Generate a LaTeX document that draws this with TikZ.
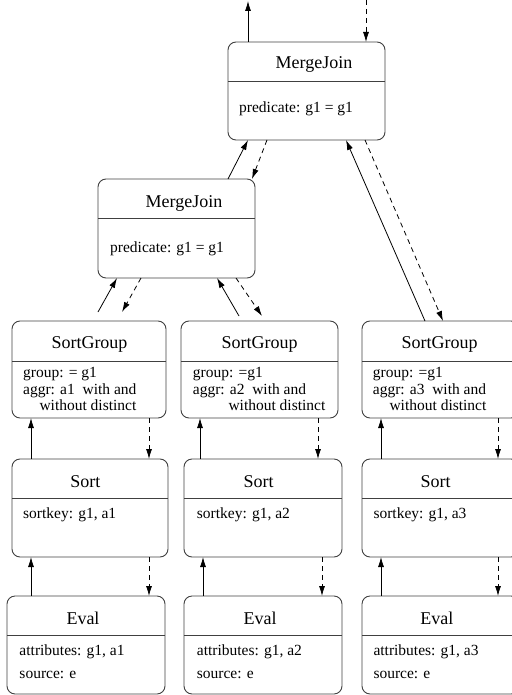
\documentclass[tikz,border=0pt]{standalone}
\usepackage{fontspec}
\setmainfont{Liberation Serif}
\usetikzlibrary{calc,arrows.meta}
\begin{document}
\begin{tikzpicture}[x=1pt,y=-1pt,
  opbox/.style={draw=black!75, line width=0.9pt, rounded corners=8pt, anchor=north west, inner sep=0pt, outer sep=0pt},
  ttl/.style={anchor=base, inner sep=0pt, font=\fontsize{18}{20}\selectfont},
  txt/.style={anchor=base west, inner sep=0pt, font=\fontsize{15.5}{17}\selectfont},
  sepline/.style={draw=black!75, line width=0.9pt},
  flow/.style={-{Latex[length=10pt,width=6pt]}, line width=0.8pt},
  req/.style={flow, dash pattern=on 5pt off 4pt}]
\useasboundingbox (0,0) rectangle (511,695);

% ---- boxes ----
\node[opbox, minimum width=157pt, minimum height=98pt] (mj1) at (228,42) {};
\node[opbox, minimum width=157pt, minimum height=99pt] (mj2) at (98,179) {};
\node[opbox, minimum width=154pt, minimum height=97pt] (sg1) at (12,321) {};
\node[opbox, minimum width=157pt, minimum height=97pt] (sg2) at (181,321) {};
\node[opbox, minimum width=157pt, minimum height=97pt] (sg3) at (362,321) {};
\node[opbox, minimum width=156pt, minimum height=98pt] (s1) at (12,459) {};
\node[opbox, minimum width=158pt, minimum height=98pt] (s2) at (184,459) {};
\node[opbox, minimum width=157pt, minimum height=98pt] (s3) at (362,459) {};
\node[opbox, minimum width=158pt, minimum height=98pt] (e1) at (7,596) {};
\node[opbox, minimum width=158pt, minimum height=98pt] (e2) at (184,596) {};
\node[opbox, minimum width=157pt, minimum height=98pt] (e3) at (362,596) {};

% ---- dividers ----
\foreach \b/\d in {mj1/39, mj2/39, sg1/40, sg2/40, sg3/40, s1/39, s2/39, s3/39, e1/39, e2/39, e3/39}
  \draw[sepline] ($(\b.north west)+(0,\d)$) -- ($(\b.north east)+(0,\d)$);

% ---- texts ----
\node[ttl] (mj1t) at (314,69) {MergeJoin};
\node[txt] (mj1p) at (239,113) {predicate: g1 = g1};
\node[ttl] (mj2t) at (184,207) {MergeJoin};
\node[txt] (mj2p) at (110,252) {predicate: g1 = g1};

\node[ttl] (sg1t) at (89.5,348) {SortGroup};
\node[txt] (sg1g) at (23,377) {group: = g1};
\node[txt] (sg1a) at (23,394) {aggr: a1\ \ with and};
\node[txt] (sg1w) at (39.3,410) {without distinct};

\node[ttl] (sg2t) at (259.5,348) {SortGroup};
\node[txt] (sg2g) at (192.7,377) {group: =g1};
\node[txt] (sg2a) at (192.7,394) {aggr: a2\ \ with and};
\node[txt] (sg2w) at (228.3,410) {without distinct};

\node[ttl] (sg3t) at (439.5,348) {SortGroup};
\node[txt] (sg3g) at (372.7,377) {group: =g1};
\node[txt] (sg3a) at (372.7,394) {aggr: a3\ \ with and};
\node[txt] (sg3w) at (389.3,410) {without distinct};

\node[ttl] (s1t) at (85.3,487) {Sort};
\node[txt] (s1k) at (23,518) {sortkey: g1, a1};
\node[ttl] (s2t) at (258.7,487) {Sort};
\node[txt] (s2k) at (196.7,518) {sortkey: g1, a2};
\node[ttl] (s3t) at (435.7,487) {Sort};
\node[txt] (s3k) at (373.3,518) {sortkey: g1, a3};

\node[ttl] (e1t) at (83,624) {Eval};
\node[txt] (e1a) at (19.3,655) {attributes: g1, a1};
\node[txt] (e1s) at (19.3,678) {source: e};
\node[ttl] (e2t) at (260,624) {Eval};
\node[txt] (e2a) at (196.7,655) {attributes: g1, a2};
\node[txt] (e2s) at (196.7,678) {source: e};
\node[ttl] (e3t) at (436.8,624) {Eval};
\node[txt] (e3a) at (373.3,655) {attributes: g1, a3};
\node[txt] (e3s) at (373.3,678) {source: e};

% ---- connectors ----
\coordinate (outtop) at (248,1);
\coordinate (intop) at (366,0);
\draw[flow] ($(mj1.north west)+(20,0)$) -- (outtop);
\draw[req] (intop) -- ($(mj1.north west)+(138,0)$);

\draw[flow] ($(mj2.north west)+(130,0)$) -- ($(mj1.south west)+(20,0)$);
\draw[req] ($(mj1.south west)+(39,0)$) -- ($(mj2.north west)+(154,0)$);

\draw[flow] ($(sg1.north west)+(86,-9)$) -- ($(mj2.south west)+(19,0)$);
\draw[req] ($(mj2.south west)+(43,0)$) -- ($(sg1.north west)+(110,-9)$);
\draw[flow] ($(sg2.north west)+(58,-5)$) -- ($(mj2.south west)+(119,0)$);
\draw[req] ($(mj2.south west)+(138,0)$) -- ($(sg2.north west)+(81,-5)$);

\draw[flow] ($(sg3.north west)+(63,0)$) -- ($(mj1.south west)+(118,0)$);
\draw[req] ($(mj1.south west)+(137,0)$) -- ($(sg3.north west)+(81,0)$);

% left column
\draw[flow] ($(s1.north west)+(19,0)$) -- ($(sg1.south west)+(19,0)$);
\draw[req] ($(sg1.south west)+(137,0)$) -- ($(s1.north west)+(137,0)$);
\draw[flow] ($(e1.north west)+(24,0)$) -- ($(s1.south west)+(19,0)$);
\draw[req] ($(s1.south west)+(137,0)$) -- ($(e1.north west)+(142,0)$);
% middle column
\draw[flow] ($(s2.north west)+(16,0)$) -- ($(sg2.south west)+(19,0)$);
\draw[req] ($(sg2.south west)+(137,0)$) -- ($(s2.north west)+(134,0)$);
\draw[flow] ($(e2.north west)+(19,0)$) -- ($(s2.south west)+(19,0)$);
\draw[req] ($(s2.south west)+(138,0)$) -- ($(e2.north west)+(138,0)$);
% right column
\draw[flow] ($(s3.north west)+(19,0)$) -- ($(sg3.south west)+(19,0)$);
\draw[req] ($(sg3.south west)+(136,0)$) -- ($(s3.north west)+(136,0)$);
\draw[flow] ($(e3.north west)+(19,0)$) -- ($(s3.south west)+(19,0)$);
\draw[req] ($(s3.south west)+(136,0)$) -- ($(e3.north west)+(136,0)$);
\end{tikzpicture}
\end{document}
